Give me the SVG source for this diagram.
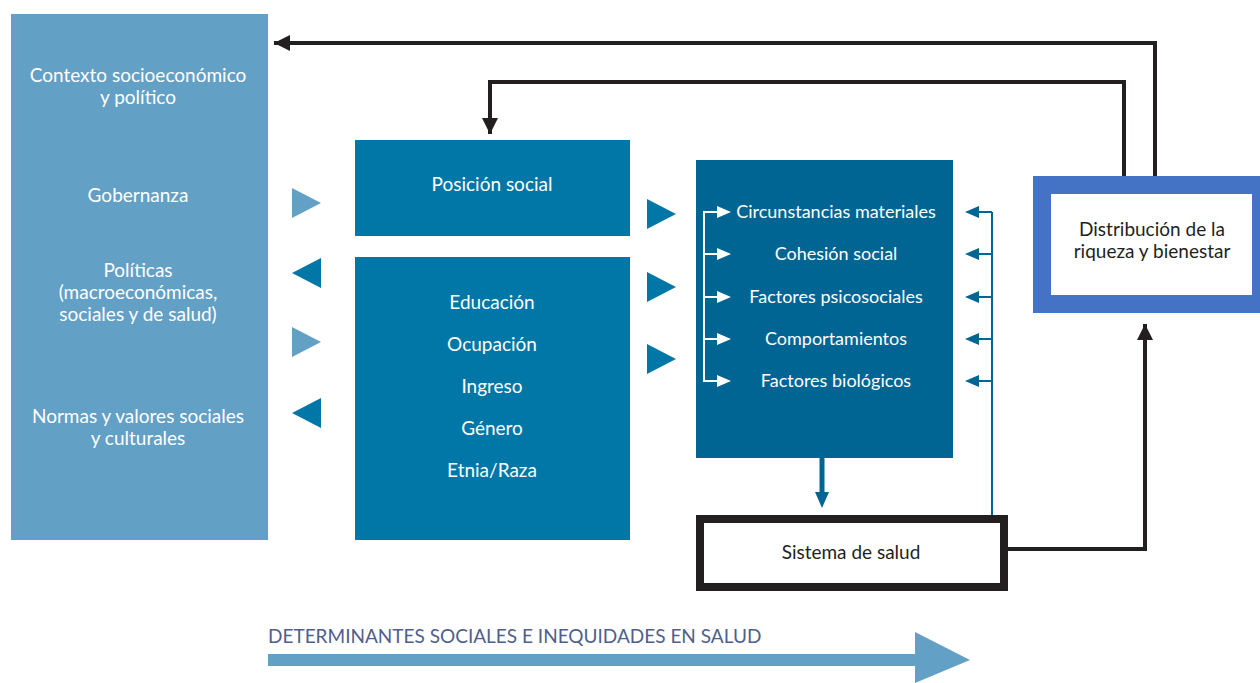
<svg xmlns="http://www.w3.org/2000/svg" width="1260" height="683" viewBox="0 0 1260 683">
  <defs>
    <style>
      text { font-family: Lato, "Open Sans", "Liberation Sans", sans-serif; font-size: 19px; text-anchor: middle; }
      .sm { font-size: 18px; }
      .w { fill: #ffffff; }
      .k { fill: #231f20; }
      .light { fill: #63a0c6; }
      .mid { fill: #0077a6; }
      .deep { fill: #006593; }
      .blk { fill: none; stroke: #231f20; stroke-width: 4; }
      .wl { fill: none; stroke: #ffffff; stroke-width: 2; }
      .bl { fill: none; stroke: #006593; stroke-width: 2; }
    </style>
    <marker id="ah-blk" viewBox="0 0 10 10" refX="10" refY="5" markerWidth="4" markerHeight="4" markerUnits="strokeWidth" orient="auto">
      <path d="M0,0 L10,5 L0,10 z" fill="#231f20"/>
    </marker>
  </defs>

  <rect width="1260" height="683" fill="#ffffff"/>

  <!-- left context column -->
  <g id="contexto">
    <rect x="11" y="14" width="257" height="526" class="light"/>
    <text class="w" x="138" y="82">Contexto socioeconómico</text>
    <text class="w" x="138" y="104">y político</text>
    <text class="w" x="138" y="202">Gobernanza</text>
    <text class="w" x="138" y="277">Políticas</text>
    <text class="w" x="138" y="299">(macroeconómicas,</text>
    <text class="w" x="138" y="321">sociales y de salud)</text>
    <text class="w" x="138" y="423">Normas y valores sociales</text>
    <text class="w" x="138" y="445">y culturales</text>
  </g>

  <g id="posicion-social">
    <rect x="355" y="140" width="275" height="96" class="mid"/>
    <text class="w" x="492" y="191">Posición social</text>
  </g>

  <g id="estratificadores">
    <rect x="355" y="257" width="275" height="283" class="mid"/>
    <text class="w" x="492" y="309">Educación</text>
    <text class="w" x="492" y="351">Ocupación</text>
    <text class="w" x="492" y="393">Ingreso</text>
    <text class="w" x="492" y="435">Género</text>
    <text class="w" x="492" y="477">Etnia/Raza</text>
  </g>

  <g id="intermedios">
    <rect x="696" y="160" width="257" height="298" class="deep"/>
    <text class="w sm" x="836" y="218">Circunstancias materiales</text>
    <text class="w sm" x="836" y="260">Cohesión social</text>
    <text class="w sm" x="836" y="303">Factores psicosociales</text>
    <text class="w sm" x="836" y="345">Comportamientos</text>
    <text class="w sm" x="836" y="387">Factores biológicos</text>
  </g>

  <g id="sistema-salud">
    <rect x="700" y="519" width="304" height="68" fill="#ffffff" stroke="#231f20" stroke-width="8"/>
    <text class="k" x="851" y="559">Sistema de salud</text>
  </g>

  <g id="distribucion">
    <rect x="1033" y="176" width="227" height="137" fill="#4472c4"/>
    <rect x="1051" y="194" width="201" height="101" fill="#ffffff"/>
    <text class="k" x="1152" y="236">Distribución de la</text>
    <text class="k" x="1152" y="258">riqueza y bienestar</text>
  </g>

  <g id="conectores">
    <!-- feedback loops -->
    <path class="blk" d="M1155,176 V43 H274" marker-end="url(#ah-blk)"/>
    <path class="blk" d="M1124,176 V82 H490 V134" marker-end="url(#ah-blk)"/>
    <path class="blk" d="M1008,549 H1145 V324" marker-end="url(#ah-blk)"/>

    <!-- flow triangles between columns -->
    <polygon class="light" points="292,188 321,203 292,218"/>
    <polygon class="mid" points="321,258 292,273 321,288"/>
    <polygon class="light" points="292,327 321,342 292,357"/>
    <polygon class="mid" points="321,398 292,413 321,428"/>

    <polygon class="mid" points="647,199 676,214 647,229"/>
    <polygon class="mid" points="647,272 676,287 647,302"/>
    <polygon class="mid" points="647,344 676,359 647,374"/>

    <!-- internal bracket -->
    <path class="wl" d="M704,212 V381"/>
    <g fill="#ffffff">
      <path class="wl" d="M703,212 H720 M703,254 H720 M703,297 H720 M703,339 H720 M703,381 H720"/>
      <polygon points="717,206 731,212 717,218"/>
      <polygon points="717,248 731,254 717,260"/>
      <polygon points="717,291 731,297 717,303"/>
      <polygon points="717,333 731,339 717,345"/>
      <polygon points="717,375 731,381 717,387"/>
    </g>

    <!-- health system feedback -->
    <path class="bl" d="M992,515 V212"/>
    <g class="deep">
      <path class="bl" d="M992,212 H975 M992,254 H975 M992,297 H975 M992,339 H975 M992,381 H975"/>
      <polygon points="979,206 965,212 979,218"/>
      <polygon points="979,248 965,254 979,260"/>
      <polygon points="979,291 965,297 979,303"/>
      <polygon points="979,333 965,339 979,345"/>
      <polygon points="979,375 965,381 979,387"/>
    </g>

    <!-- to health system -->
    <path d="M822,458 V495" stroke="#006593" stroke-width="5" fill="none"/>
    <polygon class="deep" points="815,492 829,492 822,508"/>
  </g>

  <!-- axis arrow -->
  <g id="eje">
    <text x="268" y="643" style="text-anchor:start; font-size:19px; fill:#4f5f8c;">DETERMINANTES SOCIALES E INEQUIDADES EN SALUD</text>
    <rect x="268" y="654" width="650" height="12" class="light"/>
    <polygon class="light" points="915,632 970,660 915,683"/>
  </g>
</svg>
